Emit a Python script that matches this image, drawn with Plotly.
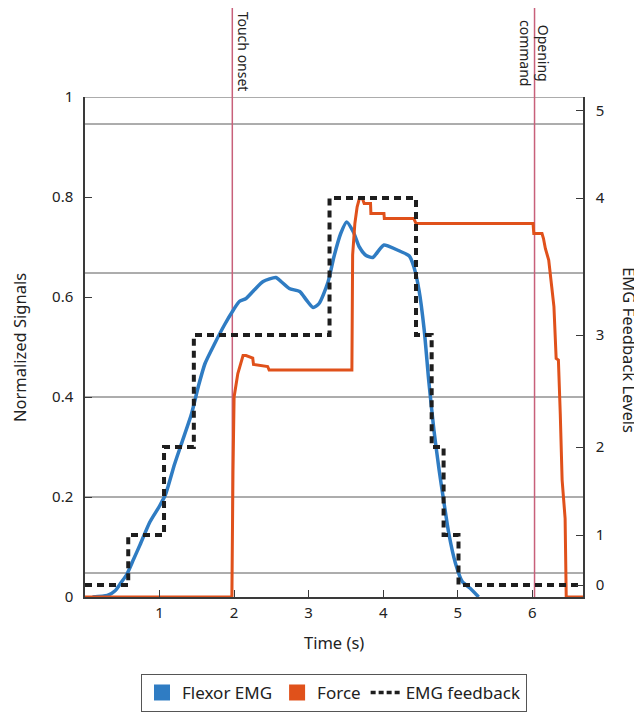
import plotly.graph_objects as go

# ---------------- data ----------------
time_emg = [0.10, 0.30, 0.40, 0.48, 0.56, 0.65, 0.74, 0.87, 1.00, 1.08, 1.20, 1.29, 1.43, 1.52,
            1.61, 1.74, 1.87, 1.99, 2.07, 2.16, 2.27, 2.39, 2.56, 2.63, 2.74, 2.88, 2.97, 3.06,
            3.14, 3.26, 3.34, 3.43, 3.51, 3.60, 3.68, 3.77, 3.86, 3.95, 4.01, 4.19, 4.35, 4.41,
            4.48, 4.55, 4.61, 4.68, 4.75, 4.81, 4.88, 4.97, 5.06, 5.17, 5.28]
flexor_emg = [0.0, 0.003, 0.012, 0.028, 0.045, 0.075, 0.105, 0.150, 0.182, 0.205, 0.265, 0.305,
              0.367, 0.421, 0.467, 0.507, 0.544, 0.574, 0.591, 0.597, 0.614, 0.631, 0.639, 0.631,
              0.617, 0.611, 0.594, 0.579, 0.587, 0.630, 0.681, 0.727, 0.750, 0.730, 0.700, 0.683,
              0.679, 0.695, 0.704, 0.694, 0.682, 0.661, 0.614, 0.534, 0.434, 0.334, 0.254, 0.194,
              0.127, 0.067, 0.031, 0.017, 0.0]

time_force = [0.0, 1.97, 1.985, 2.0, 2.05, 2.09, 2.12, 2.16, 2.25, 2.26, 2.45, 2.47, 3.58, 3.59,
              3.62, 3.65, 3.68, 3.72, 3.745, 3.83, 3.835, 4.01, 4.015, 4.41, 4.44, 6.01, 6.02,
              6.13, 6.15, 6.175, 6.22, 6.26, 6.29, 6.32, 6.35, 6.375, 6.40, 6.44, 6.455, 6.68]
force = [0.0, 0.0, 0.25, 0.40, 0.447, 0.471, 0.483, 0.483, 0.478, 0.465, 0.461, 0.454, 0.454,
         0.684, 0.747, 0.78, 0.797, 0.797, 0.787, 0.787, 0.767, 0.767, 0.757, 0.757, 0.747,
         0.747, 0.727, 0.727, 0.717, 0.697, 0.674, 0.621, 0.581, 0.477, 0.474, 0.367, 0.234,
         0.157, 0.0, 0.0]

time_feedback = [0.0, 0.58, 1.06, 1.46, 3.28, 4.44, 4.65, 4.81, 5.01, 6.68]
feedback_level = [0, 1, 2, 3, 4, 3, 2, 1, 0, 0]

level_labels = ["0", "1", "2", "3", "4", "5"]
level_positions = [0.024, 0.124, 0.30, 0.524, 0.798, 0.973]
level_thresholds = [0.048, 0.2, 0.4, 0.648, 0.946]

y_ticks = [0, 0.2, 0.4, 0.6, 0.8, 1.0]
y_ticktext = ["0", "0.2", "0.4", "0.6", "0.8", "1"]
x_ticks = [1, 2, 3, 4, 5, 6]

event_times = [1.976, 6.03]
event_labels = ["Touch onset", "Opening<br>command"]

# ---------------- style ----------------
BLUE = "#2f7cc3"
ORANGE = "#e0511b"
DASH = "#1e1e1e"
EVENT = "#c8607a"
GRID = "#5a5a5a"
AXIS = "#3a3a3a"
FONT = "Noto Sans"
TXT = "#222"

feedback_y = [level_positions[l] for l in feedback_level]

fig = go.Figure()

fig.add_trace(go.Scatter(x=time_feedback, y=feedback_y, mode="lines", line_shape="hv",
                         line=dict(color=DASH, width=4, dash="7px,5px"),
                         yaxis="y2", showlegend=False, hoverinfo="skip"))
fig.add_trace(go.Scatter(x=time_emg, y=flexor_emg, mode="lines",
                         line=dict(color=BLUE, width=3.5, shape="spline", smoothing=0.6),
                         showlegend=False))
fig.add_trace(go.Scatter(x=time_force, y=force, mode="lines",
                         line=dict(color=ORANGE, width=3),
                         showlegend=False))

# legend entries
fig.add_trace(go.Scatter(x=[None], y=[None], mode="markers", name="Flexor EMG",
                         marker=dict(symbol="square", size=16, color=BLUE)))
fig.add_trace(go.Scatter(x=[None], y=[None], mode="markers", name="Force",
                         marker=dict(symbol="square", size=16, color=ORANGE)))
fig.add_trace(go.Scatter(x=[None], y=[None], mode="lines", name="EMG feedback",
                         line=dict(color=DASH, width=3.5, dash="5px,3px")))

shapes = []
for t in level_thresholds:
    shapes.append(dict(type="line", xref="paper", yref="y", x0=0, x1=1, y0=t, y1=t,
                       line=dict(color=GRID, width=1), layer="below"))
shapes.append(dict(type="line", xref="paper", yref="y", x0=0, x1=1, y0=1, y1=1,
                   line=dict(color=GRID, width=1), layer="below"))
for t in event_times:
    shapes.append(dict(type="line", xref="x", yref="paper", x0=t, x1=t, y0=0, y1=1.2,
                       line=dict(color=EVENT, width=1.5), layer="below"))

annotations = [
    dict(text=event_labels[0], x=event_times[0], xref="x", y=1.09, yref="paper",
         xanchor="center", yanchor="middle",
         textangle=90, xshift=11, showarrow=False, font=dict(size=14, color=TXT)),
    dict(text=event_labels[1], x=event_times[1], xref="x", y=1.087, yref="paper",
         xanchor="center", yanchor="middle",
         textangle=90, xshift=0, showarrow=False, font=dict(size=14, color=TXT)),
    dict(text="Normalized Signals", x=-0.1325, xref="paper", y=0.498, yref="paper",
         xanchor="center", yanchor="middle",
         textangle=-90, showarrow=False, font=dict(size=16.5, color=TXT)),
    dict(text="EMG Feedback Levels", x=1.094, xref="paper", y=0.494, yref="paper",
         xanchor="center", yanchor="middle",
         textangle=90, showarrow=False, font=dict(size=16.5, color=TXT)),
    dict(text="Time (s)", x=0.5, xref="paper", y=-0.09, yref="paper",
         xanchor="center", yanchor="middle",
         showarrow=False, font=dict(size=16.5, color=TXT)),
]

fig.update_layout(
    width=634, height=713,
    margin=dict(l=77, r=59, t=89, b=124),
    paper_bgcolor="white", plot_bgcolor="white",
    font=dict(family=FONT, size=15, color=TXT),
    shapes=shapes, annotations=annotations,
    xaxis=dict(range=[0, 6.68], tickvals=x_ticks, ticks="inside", ticklen=7,
               tickcolor=AXIS, tickwidth=1, showline=True, linecolor=AXIS, linewidth=1.5,
               showgrid=False, zeroline=False, ticklabelstandoff=1,
               tickfont=dict(size=15)),
    yaxis=dict(range=[0, 1], tickvals=y_ticks, ticktext=y_ticktext, ticks="inside",
               ticklen=7, tickcolor=AXIS, tickwidth=1, showline=True, linecolor=AXIS,
               linewidth=1.5, showgrid=False, zeroline=False, ticklabelstandoff=7,
               tickfont=dict(size=15)),
    yaxis2=dict(range=[0, 1], overlaying="y", side="right", tickvals=level_positions,
                ticktext=level_labels, ticks="inside", ticklen=7, tickcolor=AXIS,
                tickwidth=1, showline=True, linecolor=AXIS, linewidth=1.5,
                showgrid=False, zeroline=False, ticklabelstandoff=8,
                tickfont=dict(size=15)),
    legend=dict(orientation="h", xref="paper", yref="container", x=0.5, y=0.066,
                xanchor="center", yanchor="top", bordercolor="#555", borderwidth=1,
                font=dict(size=17), itemwidth=30, tracegroupgap=0),
)

fig.write_html("out.html")
